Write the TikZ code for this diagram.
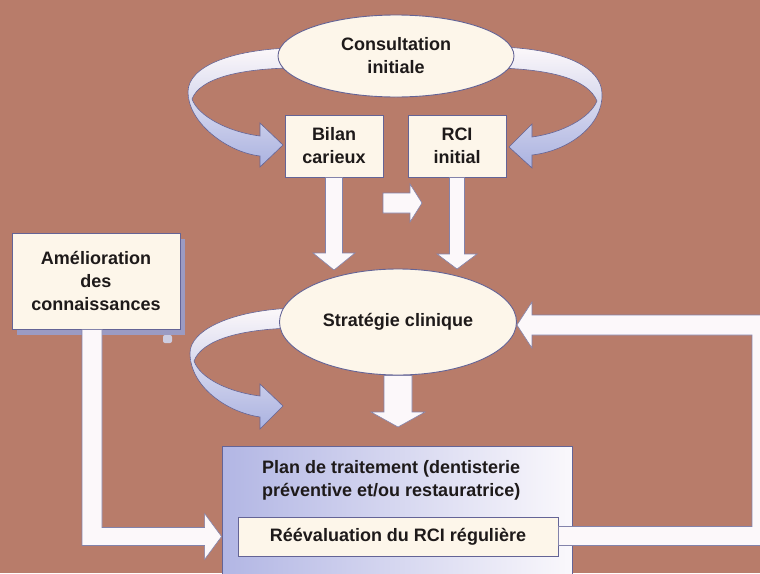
\documentclass[tikz,border=0pt]{standalone}
\usepackage{fontspec}
\setmainfont{Liberation Sans}
\usetikzlibrary{shapes.geometric,calc}
\definecolor{bg}{RGB}{184,124,106}
\definecolor{cream}{RGB}{253,246,234}
\definecolor{edge}{RGB}{100,100,150}
\definecolor{arrowwhite}{RGB}{252,248,250}
\definecolor{lav}{RGB}{170,178,224}
\definecolor{ink}{RGB}{30,26,26}
\definecolor{shadowc}{RGB}{155,155,195}
\definecolor{planleft}{RGB}{178,182,228}
\definecolor{planright}{RGB}{250,248,252}
\tikzset{
 txt/.style={font=\bfseries\fontsize{18}{23}\selectfont, text=ink, align=center},
 ell/.style={ellipse, draw=edge, line width=0.9pt, fill=cream, inner sep=0pt, txt},
 boxn/.style={rectangle, draw=edge, line width=0.9pt, fill=cream, inner sep=0pt, txt},
 fatarrow/.style={fill=arrowwhite, draw=edge!80, line width=0.6pt, line join=miter},
 curvarrow/.style={draw=edge, line width=0.6pt, top color=arrowwhite, bottom color=lav},
}
\newcommand\fatdown[5]{\path[fatarrow] let \p1=(#1), \p2=(#2) in (\x1-#3,\y1) -- (\x1-#3,\y2+#5) -- (\x1-#4,\y2+#5) -- (\x1,\y2) -- (\x1+#4,\y2+#5) -- (\x1+#3,\y2+#5) -- (\x1+#3,\y1) -- cycle;}
\newcommand\fatright[5]{\path[fatarrow] let \p1=(#1), \p2=(#2) in (\x1,\y1+#3) -- (\x2-#5,\y1+#3) -- (\x2-#5,\y1+#4) -- (\x2,\y1) -- (\x2-#5,\y1-#4) -- (\x2-#5,\y1-#3) -- (\x1,\y1-#3) -- cycle;}
\begin{document}
\begin{tikzpicture}[x=1pt,y=-1pt]
\fill[bg] (0,0) rectangle (760,573);
\useasboundingbox (0,0) rectangle (760,573);
\clip (0,0) rectangle (760,573);
% curved arrows
\path[curvarrow] (290,48) .. controls (232,50) and (188,66) .. (188,92) .. controls (188,122) and (226,152) .. (260,156) -- (260,167) -- (283,145) -- (260,123) -- (260,136) .. controls (228,132) and (198,116) .. (192,99) .. controls (200,78) and (240,69) .. (290,68) -- cycle;
\path[curvarrow] (500,47) .. controls (565,49) and (602,68) .. (602,94) .. controls (603,126) and (568,151) .. (532,155) -- (532,168) -- (509,147) -- (532,124) -- (532,137) .. controls (562,133) and (590,118) .. (597,101) .. controls (588,80) and (555,70) .. (500,68) -- cycle;
\path[curvarrow] (295,308) .. controls (232,310) and (190,330) .. (190,353) .. controls (190,386) and (226,412) .. (260,417) -- (260,429) -- (283,406) -- (260,384) -- (260,396) .. controls (228,392) and (200,378) .. (194,361) .. controls (202,340) and (240,329) .. (295,328) -- cycle;
% nodes
\node[ell, minimum width=236pt, minimum height=82pt] (consult) at (396,56) {Consultation\\initiale};
\node[boxn, minimum width=98pt, minimum height=62pt] (bilan) at (334,146) {Bilan\\carieux};
\node[boxn, minimum width=98pt, minimum height=62pt] (rci) at (457,146) {RCI\\initial};
\node[ell, minimum width=237pt, minimum height=106pt] (strat) at (398,322) {Stratégie clinique};
\fill[shadowc] (17,239) rectangle (185,335);
\node[boxn, minimum width=168pt, minimum height=96pt] (amel) at (96,281) {Amélioration\\des\\connaissances};
\fill[shadowc!50!white, rounded corners=2pt] (163,335) rectangle (172,343);
\node[draw=edge, line width=0.9pt, left color=planleft, right color=planright, minimum width=350pt, minimum height=150pt, inner sep=0pt] (plan) at (397,521) {};
\node[txt, align=left, anchor=west, inner sep=0pt] (plantxt) at (262,480) {Plan de traitement (dentisterie\\préventive et/ou restauratrice)};
\node[boxn, minimum width=320pt, minimum height=39pt] (reeval) at (398,536.5) {Réévaluation du RCI régulière};
% straight arrows
\coordinate (tipA) at (334,270);
\coordinate (tipB) at (457,269);
\coordinate (tipC) at (398,427);
\coordinate (sA) at (383,203);
\coordinate (sB) at (422,203);
\fatdown{bilan.south}{tipA}{8.5pt}{21pt}{17pt}
\fatdown{rci.south}{tipB}{7.5pt}{20pt}{15pt}
\fatright{sA}{sB}{10pt}{19pt}{12pt}
\fatdown{strat.south}{tipC}{14pt}{27pt}{15pt}
% feedback arrows
\path[fatarrow] let \p1=(reeval.east), \p2=([yshift=-3pt]strat.east) in
 (\x1,\y1+10pt) -- (752pt,\y1+10pt) -- (752pt,\y2-10pt) -- (\x2+15pt,\y2-10pt) -- (\x2+15pt,\y2-23pt) -- (\x2,\y2) -- (\x2+15pt,\y2+23pt) -- (\x2+15pt,\y2+10pt) -- (772pt,\y2+10pt) -- (772pt,\y1-9pt) -- (\x1,\y1-9pt) -- cycle;
\path[fatarrow] let \p1=([xshift=-4pt]amel.south), \p2=(plan.west |- reeval.west) in
 (\x1-10pt,\y1) -- (\x1-10pt,\y2-9pt) -- (\x2-17pt,\y2-9pt) -- (\x2-17pt,\y2-23pt) -- (\x2,\y2) -- (\x2-17pt,\y2+23pt) -- (\x2-17pt,\y2+9pt) -- (\x1+10pt,\y2+9pt) -- (\x1+10pt,\y1) -- cycle;
\end{tikzpicture}
\end{document}
